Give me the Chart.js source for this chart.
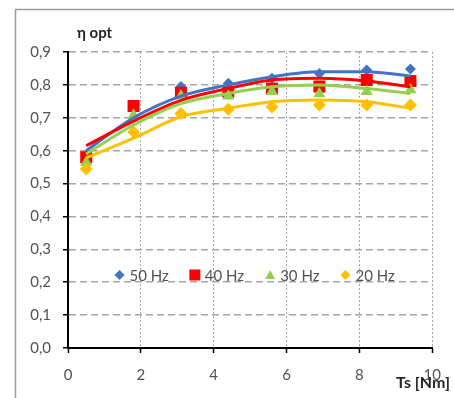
<!DOCTYPE html>
<html>
<head>
<meta charset="utf-8">
<script src="https://cdn.jsdelivr.net/npm/chart.js@4.4.1/dist/chart.umd.min.js"></script>
<style>
  html, body { margin: 0; padding: 0; background: #fff; overflow: hidden; }
  #wrap { width: 454px; height: 398px; }
</style>
</head>
<body>
<div id="wrap"><canvas id="effChart" width="454" height="398"></canvas></div>
<script>
// Ts [Nm] at which the points were measured
const torque = [0.5, 1.8, 3.1, 4.4, 5.6, 6.9, 8.2, 9.4];

// measured optimum efficiency per supply frequency
const eff50 = [0.585, 0.735, 0.795, 0.805, 0.82, 0.835, 0.845, 0.848];
const eff40 = [0.58, 0.736, 0.776, 0.78, 0.789, 0.795, 0.815, 0.812];
const eff30 = [0.565, 0.708, 0.766, 0.766, 0.78, 0.773, 0.78, 0.785];
const eff20 = [0.544, 0.657, 0.713, 0.726, 0.733, 0.739, 0.739, 0.739];

// trend lines
const trend50 = [0.60, 0.70, 0.766, 0.80, 0.825, 0.84, 0.84, 0.827];
const trend40 = [0.615, 0.69, 0.753, 0.789, 0.815, 0.82, 0.812, 0.794];
const trend30 = [0.59, 0.678, 0.743, 0.774, 0.794, 0.80, 0.789, 0.774];
const trend20 = [0.578, 0.638, 0.703, 0.729, 0.749, 0.754, 0.749, 0.729];

const seriesNames = ['50 Hz', '40 Hz', '30 Hz', '20 Hz'];
const seriesColors = ['#4472C4', '#FF0000', '#92D050', '#FFC000'];
const seriesShapes = ['rectRot', 'rect', 'triangle', 'rectRot'];
const markerSizes = [5.5, 8.5, 7, 6.5];

const xTicks = [0, 2, 4, 6, 8, 10];
const yTicks = [0, 0.1, 0.2, 0.3, 0.4, 0.5, 0.6, 0.7, 0.8, 0.9];

const toPoints = (ys) => ys.map((y, i) => ({ x: torque[i], y: y }));

const measured = [eff50, eff40, eff30, eff20];
const trends = [trend50, trend40, trend30, trend20];

const datasets = [];
measured.forEach((ys, i) => {
    datasets.push({
        label: seriesNames[i],
        data: toPoints(ys),
        showLine: false,
        pointStyle: seriesShapes[i],
        pointRadius: markerSizes[i],
        pointHoverRadius: markerSizes[i],
        pointBackgroundColor: seriesColors[i],
        pointBorderColor: seriesColors[i],
        pointBorderWidth: 0,
        order: 10 - i
    });
});
trends.forEach((ys, i) => {
    datasets.push({
        label: seriesNames[i] + ' trend',
        data: toPoints(ys),
        showLine: true,
        borderColor: seriesColors[i],
        borderWidth: 3,
        pointRadius: 0,
        tension: 0.4,
        cubicInterpolationMode: 'monotone',
        order: 5 - i
    });
});

const FONT = 'Lato, "DejaVu Sans", sans-serif';
const TEXT_GREY = '#525252';

// grey outer frame of the chart object
const framePlugin = {
    id: 'frame',
    beforeDraw(chart) {
        const ctx = chart.ctx;
        ctx.save();
        ctx.fillStyle = '#fff';
        ctx.fillRect(0, 0, chart.width, chart.height);
        ctx.strokeStyle = '#9a9a9a';
        ctx.lineWidth = 1.5;
        ctx.strokeRect(15.5, 9.5, chart.width + 20, chart.height + 20);
        ctx.restore();
    }
};

function drawMarker(ctx, shape, x, y, r, color) {
    ctx.fillStyle = color;
    ctx.beginPath();
    if (shape === 'rect') {
        ctx.rect(x - r, y - r, 2 * r, 2 * r);
    } else if (shape === 'triangle') {
        ctx.moveTo(x, y - r);
        ctx.lineTo(x + r, y + r * 0.8);
        ctx.lineTo(x - r, y + r * 0.8);
        ctx.closePath();
    } else {
        ctx.moveTo(x, y - r);
        ctx.lineTo(x + r, y);
        ctx.lineTo(x, y + r);
        ctx.lineTo(x - r, y);
        ctx.closePath();
    }
    ctx.fill();
}

// axis titles and the legend that sits inside the plot
const textPlugin = {
    id: 'texts',
    afterDraw(chart) {
        const ctx = chart.ctx;
        const area = chart.chartArea;
        ctx.save();
        ctx.fillStyle = '#262626';
        ctx.textBaseline = 'middle';
        ctx.font = 'bold 15px ' + FONT;
        ctx.textAlign = 'left';
        ctx.fillText('η opt', area.left + 9, 33);
        ctx.font = 'bold 16px ' + FONT;
        ctx.textAlign = 'right';
        ctx.fillText('Ts [Nm]', chart.width - 4, 383);

        // legend
        ctx.font = '15px ' + FONT;
        ctx.textAlign = 'left';
        const gapMarker = 10, gapItem = 26;
        const widths = seriesNames.map(n => ctx.measureText(n).width);
        let total = 0;
        widths.forEach((w, i) => { total += gapMarker + w + (i < widths.length - 1 ? gapItem : 0); });
        let x = (area.left + area.right) / 2 + 3 - total / 2 + 4;
        const y = chart.scales.y.getPixelForValue(0.222);
        seriesNames.forEach((name, i) => {
            const r = seriesShapes[i] === 'rect' ? 5.5 : 5;
            drawMarker(ctx, seriesShapes[i], x, y, r, seriesColors[i]);
            ctx.fillStyle = TEXT_GREY;
            ctx.fillText(name, x + gapMarker, y + 1);
            x += gapMarker + widths[i] + gapItem;
        });
        ctx.restore();
    }
};

new Chart(document.getElementById('effChart'), {
    type: 'scatter',
    data: { datasets: datasets },
    options: {
        responsive: false,
        animation: false,
        devicePixelRatio: 1,
        layout: { padding: { left: 0, top: 52, right: 16, bottom: 0 } },
        plugins: {
            legend: { display: false },
            tooltip: { enabled: false }
        },
        scales: {
            x: {
                type: 'linear',
                min: xTicks[0],
                max: xTicks[xTicks.length - 1],
                afterFit: (s) => { s.height = 50; },
                afterBuildTicks: (s) => { s.ticks = xTicks.map(v => ({ value: v })); },
                ticks: {
                    padding: 13,
                    color: TEXT_GREY,
                    font: { family: FONT, size: 15 }
                },
                grid: {
                    color: '#a6a6a6',
                    lineWidth: 1,
                    tickLength: 5,
                    tickColor: '#000',
                    tickWidth: 1.5
                },
                border: { color: '#000', width: 2, dash: [2, 2] }
            },
            y: {
                type: 'linear',
                min: yTicks[0],
                max: yTicks[yTicks.length - 1],
                afterFit: (s) => { s.width = 68; },
                afterBuildTicks: (s) => { s.ticks = yTicks.map(v => ({ value: v })); },
                ticks: {
                    padding: 12,
                    color: TEXT_GREY,
                    font: { family: FONT, size: 15 },
                    callback: (v) => Number(v).toFixed(1).replace('.', ',')
                },
                grid: {
                    color: '#a6a6a6',
                    lineWidth: 1.5,
                    tickLength: 5,
                    tickColor: '#000',
                    tickWidth: 1.5
                },
                border: { color: '#000', width: 2, dash: [7, 4] }
            }
        }
    },
    plugins: [framePlugin, textPlugin]
});
</script>
</body>
</html>
